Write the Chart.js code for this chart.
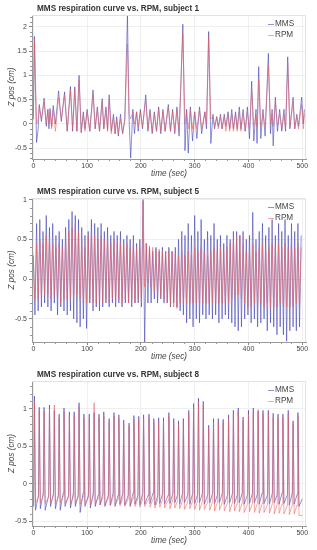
<!DOCTYPE html>
<html>
<head>
<meta charset="utf-8">
<script src="https://cdn.jsdelivr.net/npm/chart.js@4.4.0/dist/chart.umd.min.js"></script>
<style>
  html, body { margin: 0; padding: 0; background: #fff; }
  .box { position: relative; width: 317px; height: 183px; }
  #wrap3 { height: 184px; }
</style>
</head>
<body>
<div class="box"><canvas id="c1"></canvas></div>
<div class="box"><canvas id="c2"></canvas></div>
<div class="box" id="wrap3"><canvas id="c3"></canvas></div>
<script>
// ---- data ----
const xTicks = [0, 100, 200, 300, 400, 500];
const yTicks1 = [-0.5, 0, 0.5, 1, 1.5, 2];
const yTicks23 = [-0.5, 0, 0.5, 1];

// subject 1
const time1 = [
  0,2,6,9,11,15,20,24,27,29, 31,34,37,41,47,52,58,63,69,73,
  77,81,85,89,93,96,100,105,111,115, 119,123,128,131,135,138,141,145,149,152,
  155,158,162,166,170,175,178,181,185,188, 192,195,199,203,209,213,217,221,225,229,
  233,237,241,245,251,255,259,263,267,271, 278,282,285,288,292,296,300,304,309,313,
  319,322,326,330,334,337,341,344,348,351, 355,358,362,365,369,372,376,379,383,386,
  390,394,398,402,406,410,414,416,419,423, 427,431,437,441,444,446,450,454,458,462,
  466,469,473,477,483,486,490,493,499,502, 504
];
const mms1 = [
  0.1,1.8,-0.38,-0.1,0.4,0.05,0.53,-0.05,0.3,-0.1, 0.32,-0.05,0.38,0.0,0.68,0.05,0.66,-0.15,0.77,-0.15,
  0.76,-0.15,1.0,-0.18,0.25,-0.1,0.3,-0.15,0.7,-0.1, 0.35,-0.15,0.52,-0.1,0.35,-0.12,0.6,-0.15,0.2,-0.2,
  0.15,-0.25,0.2,-0.2,0.1,2.25,0.1,-0.7,0.3,-0.2, 0.25,-0.15,0.3,-0.1,0.6,-0.15,0.3,-0.2,0.25,-0.15,
  0.35,-0.2,0.3,-0.15,0.4,-0.15,0.3,-0.2,0.35,-0.25, 2.05,-0.55,0.3,-0.6,0.35,-0.35,0.25,-0.3,0.35,-0.2,
  0.25,-0.1,1.9,-0.4,0.2,-0.1,0.15,-0.05,0.2,-0.1, 0.2,-0.05,0.25,-0.1,0.3,-0.1,0.25,-0.1,0.35,-0.1,
  0.3,-0.15,0.35,-0.3,0.88,-0.35,0.3,-0.4,1.18,-0.3, 0.3,-0.25,1.45,-0.2,0.3,-0.45,0.55,-0.15,0.3,-0.15,
  0.3,-0.15,1.38,-0.1,0.55,-0.1,0.2,-0.05,0.55,0.0, 0.3
];
const rpm1 = [
  0.2,1.75,0.0,0.1,0.35,0.1,0.45,0.0,0.3,0.0, 0.25,-0.1,0.3,-0.15,0.55,0.1,0.6,-0.15,0.7,-0.1,
  0.7,-0.15,0.9,-0.15,0.2,-0.15,0.25,-0.15,0.6,-0.1, 0.3,-0.15,0.45,-0.1,0.3,-0.15,0.5,-0.2,0.15,-0.2,
  0.1,-0.2,0.1,-0.2,0.05,1.65,0.2,0.1,0.25,0.0, 0.25,-0.05,0.25,-0.05,0.5,-0.1,0.25,-0.15,0.2,-0.15,
  0.3,-0.15,0.25,-0.15,0.35,-0.15,0.25,-0.15,0.3,-0.15, 1.85,0.0,0.25,-0.1,0.3,-0.1,0.25,-0.1,0.3,-0.1,
  0.25,0.0,1.8,0.1,0.15,-0.05,0.15,-0.1,0.15,-0.1, 0.15,-0.15,0.2,-0.15,0.2,-0.15,0.2,-0.15,0.25,-0.15,
  0.2,-0.15,0.25,-0.1,0.7,-0.05,0.2,-0.05,0.9,-0.05, 0.2,-0.05,1.2,0.0,0.2,-0.05,0.45,-0.05,0.2,-0.1,
  0.2,-0.1,1.25,-0.05,0.45,-0.1,0.15,-0.1,0.4,-0.1, 0.2
];

// subject 5
const time5 = [
  0,3,6,9,12,15,18,21,24,27,30,33,36,39,42,45,48,51,54,57,
  60,63,66,69,72,75,78,81,84,87,90,93,96,99,102,105,108,111,114,117,
  120,123,126,129,132,135,138,141,144,147,150,153,156,159,162,165,168,171,174,177,
  180,183,186,189,192,195,198,201,204,207,210,213,216,219,222,225,228,231,234,237,
  240,243,246,249,252,255,258,261,264,267,270,273,276,279,282,285,288,291,294,297,
  300,303,306,309,312,315,318,321,324,327,330,333,336,339,342,345,348,351,354,357,
  360,363,366,369,372,375,378,381,384,387,390,393,396,399,402,405,408,411,414,417,
  420,423,426,429,432,435,438,441,444,447,450,453,456,459,462,465,468,471,474,477,
  480,483,486,489,492,495,498
];
const mms5 = [
  0.3,-0.45, 0.7,-0.4, 0.75,-0.35, 0.6,-0.3, 0.8,-0.35, 0.65,-0.4, 0.7,-0.3, 0.55,-0.45, 0.6,-0.35, 0.5,-0.4,
  0.65,-0.45, 0.75,-0.4, 0.85,-0.5, 0.8,-0.55, 0.75,-0.6, 0.65,-0.5, 0.55,-0.62, 0.6,-0.3, 0.75,-0.4, 0.7,-0.35,
  0.65,-0.4, 0.7,-0.35, 0.6,-0.3, 0.65,-0.35, 0.55,-0.3, 0.6,-0.35, 0.55,-0.3, 0.6,-0.35, 0.5,-0.3, 0.55,-0.3,
  0.5,-0.35, 0.55,-0.3, 0.45,-0.3, 0.5,-0.35, 1.0,-0.8, 0.45,-0.3, 0.4,-0.3, 0.35,-0.25, 0.4,-0.3, 0.35,-0.25,
  0.4,-0.3, 0.35,-0.3, 0.4,-0.35, 0.35,-0.3, 0.4,-0.35, 0.5,-0.4, 0.6,-0.45, 0.55,-0.55, 0.7,-0.5, 0.55,-0.6,
  0.8,-0.5, 0.6,-0.55, 0.75,-0.45, 0.5,-0.5, 0.6,-0.45, 0.55,-0.5, 0.7,-0.45, 0.5,-0.55, 0.55,-0.5, 0.45,-0.45,
  0.55,-0.5, 0.5,-0.55, 0.6,-0.6, 0.6,-0.65, 0.55,-0.6, 0.6,-0.5, 0.5,-0.45, 0.55,-0.55, 0.84,-0.5, 0.5,-0.6,
  0.6,-0.55, 0.7,-0.5, 0.55,-0.65, 0.65,-0.55, 0.75,-0.6, 0.55,-0.7, 0.7,-0.6, 0.6,-0.7, 0.75,-0.78, 0.55,-0.65,
  0.7,-0.6, 0.6,-0.65, 0.7,-0.6, 0.55
];
const rpm5 = [
  0.2,-0.25, 0.45,-0.25, 0.5,-0.2, 0.45,-0.2, 0.55,-0.2, 0.5,-0.25, 0.45,-0.2, 0.4,-0.25, 0.45,-0.3, 0.4,-0.25,
  0.5,-0.25, 0.6,-0.25, 0.65,-0.2, 0.7,-0.2, 0.6,-0.25, 0.5,-0.3, 0.4,-0.3, 0.55,-0.25, 0.6,-0.3, 0.55,-0.3,
  0.5,-0.25, 0.55,-0.3, 0.5,-0.25, 0.5,-0.3, 0.45,-0.25, 0.5,-0.3, 0.45,-0.25, 0.45,-0.3, 0.45,-0.25, 0.45,-0.3,
  0.4,-0.25, 0.45,-0.3, 0.4,-0.25, 0.4,-0.3, 0.98,-0.1, 0.45,-0.05, 0.42,-0.1, 0.4,-0.15, 0.38,-0.2, 0.38,-0.22,
  0.36,-0.25, 0.35,-0.3, 0.35,-0.33, 0.35,-0.35, 0.32,-0.37, 0.3,-0.3, 0.35,-0.3, 0.3,-0.3, 0.35,-0.3, 0.3,-0.3,
  0.4,-0.3, 0.35,-0.3, 0.4,-0.3, 0.35,-0.3, 0.3,-0.3, 0.35,-0.3, 0.4,-0.3, 0.35,-0.3, 0.4,-0.3, 0.35,-0.3,
  0.4,-0.3, 0.45,-0.25, 0.5,-0.2, 0.55,-0.2, 0.55,-0.25, 0.45,-0.3, 0.35,-0.35, 0.35,-0.35, 0.45,-0.3, 0.35,-0.35,
  0.4,-0.3, 0.45,-0.35, 0.35,-0.3, 0.4,-0.35, 0.45,-0.35, 0.4,-0.35, 0.45,-0.3, 0.4,-0.35, 0.45,-0.35, 0.4,-0.35,
  0.45,-0.35, 0.4,-0.3, 0.45,-0.35, 0.4
];

// subject 8
const time8 = [
  0.5,2,4, 9.5,11,13, 18.5,20,22, 28.5,30,32, 37.5,39,41, 46.5,48,50,
  55.5,57,59, 65.5,67,69, 74.5,76,78, 83.5,85,87, 92.5,94,96, 102.5,104,106,
  111.5,113,115, 120.5,122,124, 129.5,131,133, 139.5,141,143, 148.5,150,152, 157.5,159,161,
  166.5,168,170, 176.5,178,180, 185.5,187,189, 194.5,196,198, 203.5,205,207, 213.5,215,217,
  222.5,224,226, 231.5,233,235, 240.5,242,244, 250.5,252,254, 259.5,261,263, 268.5,270,272,
  277.5,279,281, 287.5,289,291, 296.5,298,300, 305.5,307,309, 314.5,316,318, 324.5,326,328,
  333.5,335,337, 342.5,344,346, 351.5,353,355, 361.5,363,365, 370.5,372,374, 379.5,381,383,
  388.5,390,392, 398.5,400,402, 407.5,409,411, 416.5,418,420, 425.5,427,429, 435.5,437,439,
  444.5,446,448, 453.5,455,457, 462.5,464,466, 472.5,474,476, 481.5,483,485, 490.5,492,494,
  500
];
const mms8 = [
  -0.3,1.17,-0.35, -0.15,1.02,-0.33, -0.12,1.02,-0.35, -0.15,1.05,-0.3, -0.12,0.98,-0.33, -0.15,0.93,-0.35,
  -0.12,1.01,-0.3, -0.15,0.96,-0.32, -0.12,0.96,-0.3, -0.15,1.08,-0.38, -0.12,0.93,-0.3, -0.15,0.93,-0.32,
  -0.12,0.95,-0.3, -0.15,0.93,-0.28, -0.12,0.96,-0.3, -0.15,0.87,-0.28, -0.12,0.95,-0.3, -0.15,0.92,-0.27,
  -0.12,0.85,-0.28, -0.15,0.81,-0.3, -0.12,0.91,-0.27, -0.15,0.9,-0.28, -0.12,0.92,-0.27, -0.15,0.93,-0.26,
  -0.12,0.87,-0.28, -0.15,0.88,-0.26, -0.12,0.88,-0.27, -0.15,0.95,-0.26, -0.12,0.87,-0.25, -0.14,0.84,-0.27,
  -0.12,0.87,-0.25, -0.14,0.98,-0.27, -0.12,1.07,-0.26, -0.14,1.14,-0.25, -0.12,1.1,-0.27, -0.14,0.78,-0.25,
  -0.12,0.87,-0.26, -0.14,0.87,-0.25, -0.12,0.86,-0.27, -0.14,0.92,-0.25, -0.12,0.98,-0.26, -0.14,1.01,-0.25,
  -0.12,0.89,-0.27, -0.14,0.98,-0.26, -0.12,1.01,-0.25, -0.14,0.97,-0.27, -0.12,0.98,-0.26, -0.14,0.98,-0.27,
  -0.12,0.94,-0.25, -0.14,0.93,-0.27, -0.12,0.93,-0.26, -0.14,0.98,-0.28, -0.12,0.84,-0.27, -0.14,0.95,-0.3,
  -0.2
];
const rpm8 = [
  -0.3,1.1,-0.25, -0.18,0.97,-0.25, -0.16,0.97,-0.26, -0.18,1.0,-0.25, -0.16,1.05,-0.26, -0.18,0.88,-0.25,
  -0.16,0.96,-0.26, -0.18,0.91,-0.27, -0.17,0.91,-0.26, -0.18,1.02,-0.27, -0.17,0.88,-0.27, -0.18,0.88,-0.28,
  -0.17,1.08,-0.27, -0.19,0.88,-0.28, -0.18,0.91,-0.28, -0.19,0.82,-0.29, -0.18,0.9,-0.28, -0.2,0.87,-0.29,
  -0.19,0.8,-0.3, -0.2,0.77,-0.29, -0.19,0.86,-0.3, -0.2,0.85,-0.31, -0.2,0.87,-0.3, -0.21,0.88,-0.31,
  -0.2,0.82,-0.32, -0.21,0.83,-0.31, -0.21,0.83,-0.32, -0.22,0.9,-0.33, -0.21,0.82,-0.32, -0.22,0.79,-0.33,
  -0.22,0.82,-0.34, -0.23,0.93,-0.33, -0.22,1.02,-0.34, -0.23,1.09,-0.35, -0.23,1.05,-0.34, -0.24,0.74,-0.35,
  -0.23,0.82,-0.36, -0.24,0.82,-0.35, -0.24,0.81,-0.36, -0.25,0.87,-0.37, -0.24,0.93,-0.36, -0.25,0.96,-0.37,
  -0.25,0.84,-0.38, -0.26,0.93,-0.37, -0.25,0.96,-0.38, -0.26,0.99,-0.39, -0.26,0.93,-0.38, -0.27,0.93,-0.39,
  -0.26,0.89,-0.4, -0.27,0.88,-0.39, -0.27,0.88,-0.4, -0.28,0.93,-0.41, -0.28,0.8,-0.4, -0.28,0.9,-0.42,
  -0.42
];

// ---- styling ----
const FONT = '"Liberation Sans", Arial, Helvetica, sans-serif';
const MMS_COLOR = 'rgba(55, 55, 175, 0.55)';
const RPM_COLOR = 'rgba(235, 95, 95, 0.55)';
const TEXT = '#444';

const pts = (xs, ys) => xs.map((x, i) => ({ x: x, y: ys[i] }));

// title, legend, outline and bokeh-like minor ticks
const decor = {
  id: 'decor',
  afterDraw(chart, args, opts) {
    const ctx = chart.ctx;
    const a = chart.chartArea;
    const xs = chart.scales.x, ys = chart.scales.y;
    ctx.save();
    ctx.strokeStyle = '#e2e2e2';
    ctx.lineWidth = 1;
    ctx.beginPath();
    ctx.moveTo(a.left, a.top + 0.5); ctx.lineTo(a.right - 0.5, a.top + 0.5); ctx.lineTo(a.right - 0.5, a.bottom);
    ctx.stroke();

    ctx.strokeStyle = '#999';
    ctx.beginPath();
    for (let v = 20; v < 507; v += 20) {
      if (v % 100 === 0) continue;
      const px = Math.round(xs.getPixelForValue(v)) + 0.5;
      ctx.moveTo(px, a.bottom); ctx.lineTo(px, a.bottom + 2);
    }
    for (let k = Math.ceil(ys.min * 10); k <= Math.floor(ys.max * 10); k++) {
      if (k % 5 === 0) continue;
      const py = Math.round(ys.getPixelForValue(k / 10)) + 0.5;
      ctx.moveTo(a.left - 2, py); ctx.lineTo(a.left, py);
    }
    ctx.stroke();

    ctx.textBaseline = 'middle';
    ctx.textAlign = 'left';
    ctx.fillStyle = '#333';
    ctx.font = 'bold 8.2px ' + FONT;
    ctx.fillText(opts.title, a.left + 5, 9);

    ctx.font = '8.2px ' + FONT;
    chart.data.datasets.forEach((ds, i) => {
      const y = a.top + 9 + i * 10.5;
      ctx.strokeStyle = ds.borderColor;
      ctx.beginPath();
      ctx.moveTo(a.right - 38, Math.round(y) + 0.5);
      ctx.lineTo(a.right - 32, Math.round(y) + 0.5);
      ctx.stroke();
      ctx.fillStyle = TEXT;
      ctx.fillText(ds.label, a.right - 31, y);
    });
    ctx.restore();
  }
};

function makeChart(id, title, time, mms, rpm, yMin, yMax, yTicks) {
  return new Chart(document.getElementById(id), {
    type: 'line',
    data: {
      datasets: [
        { label: 'MMS', data: pts(time, mms), borderColor: MMS_COLOR, borderWidth: 1, pointRadius: 0, order: 2 },
        { label: 'RPM', data: pts(time, rpm), borderColor: RPM_COLOR, borderWidth: 1, pointRadius: 0, order: 1 },
      ],
    },
    options: {
      responsive: true,
      maintainAspectRatio: false,
      animation: false,
      layout: { padding: { top: 15, right: 11, left: 0, bottom: 0 } },
      plugins: {
        legend: { display: false },
        tooltip: { enabled: false },
        decor: { title: title },
      },
      scales: {
        x: {
          type: 'linear',
          min: -2.5,
          max: 507,
          afterBuildTicks: s => { s.ticks = xTicks.map(v => ({ value: v })); },
          afterFit: s => { s.height = 24; },
          grid: { color: '#efefef', tickLength: 3, tickColor: '#888' },
          border: { color: '#999' },
          ticks: { color: TEXT, font: { size: 7, family: FONT }, padding: 0, maxRotation: 0, callback: v => String(v) },
          title: { display: true, text: 'time (sec)', color: TEXT, font: { size: 8.2, style: 'italic', family: FONT }, padding: { top: 0, bottom: 4 } },
        },
        y: {
          min: yMin,
          max: yMax,
          afterBuildTicks: s => { s.ticks = yTicks.map(v => ({ value: v })); },
          afterFit: s => { s.width = 32; },
          grid: { color: '#efefef', tickLength: 3, tickColor: '#888' },
          border: { color: '#999' },
          ticks: { color: TEXT, font: { size: 7, family: FONT }, padding: 2, callback: v => String(v) },
          title: { display: true, text: 'Z pos (cm)', color: TEXT, font: { size: 8.2, style: 'italic', family: FONT }, padding: { top: 7, bottom: 0 } },
        },
      },
    },
    plugins: [decor],
  });
}

makeChart('c1', 'MMS respiration curve vs. RPM, subject 1', time1, mms1, rpm1, -0.72, 2.24, yTicks1);
makeChart('c2', 'MMS respiration curve vs. RPM, subject 5', time5, mms5, rpm5, -0.79, 1.02, yTicks23);
makeChart('c3', 'MMS respiration curve vs. RPM, subject 8', time8, mms8, rpm8, -0.56, 1.37, yTicks23);
</script>
</body>
</html>
